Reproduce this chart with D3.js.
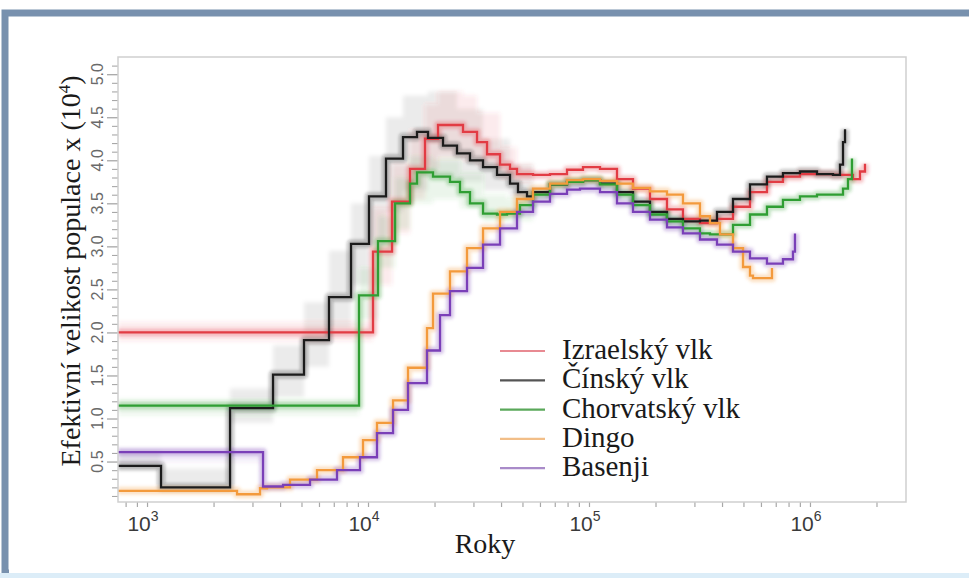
<!DOCTYPE html>
<html><head><meta charset="utf-8">
<script src="https://cdn.jsdelivr.net/npm/d3@7"></script>
<style>
html,body{margin:0;padding:0;background:#fff;}
svg{display:block;}
</style></head>
<body>
<svg id="chart" width="969" height="578"></svg>
<script>
// ---------- DATA (years, Ne x 10^4) ----------
const seriesNames = ["Izraelský vlk", "Čínský vlk", "Chorvatský vlk", "Dingo", "Basenji"];
const seriesColors = ["#e23c44", "#1c1c1c", "#2f9e33", "#f39a3c", "#7a3fb8"];
const legendColors = ["#e88a92", "#555555", "#5aa85a", "#f2be88", "#a98bc9"];

const izraelsky = [[740,2.00],[10535,2.94],[12846,3.52],[15489,3.90],[18110,4.25],[20740,4.41],[26909,4.33],[31139,4.21],[34561,4.07],[39574,3.95],[43913,3.90],[47228,3.84],[55806,3.83],[66602,3.84],[79522,3.89],[93948,3.92],[112160,3.90],[133886,3.78],[158185,3.67],[188800,3.55],[225380,3.43],[266250,3.32],[317850,3.27],[379500,3.32],[448400,3.46],[535300,3.63],[638800,3.75],[754700,3.81],[901000,3.84],[1271000,3.83],[1565000,3.78],[1684000,3.87],[1774000,3.96]];
const cinsky = [[740,0.45],[1157,0.20],[2375,1.12],[3717,1.51],[5133,1.91],[6660,2.41],[8378,3.03],[10104,3.58],[12062,4.02],[14400,4.27],[16662,4.33],[18685,4.26],[21848,4.17],[25275,4.08],[28942,4.00],[33152,3.92],[38357,3.83],[43913,3.73],[47720,3.63],[52428,3.58],[55806,3.63],[66602,3.72],[79522,3.75],[93948,3.77],[112160,3.73],[133886,3.63],[158185,3.52],[188800,3.40],[225380,3.32],[266250,3.29],[317850,3.30],[379500,3.40],[448400,3.55],[535300,3.72],[638800,3.81],[754700,3.85],[901000,3.87],[1076000,3.84],[1271000,3.83],[1367000,3.95],[1411000,4.21],[1441000,4.36]];
const chorvatsky = [[740,1.15],[9106,2.43],[11097,3.06],[13255,3.50],[15489,3.73],[16662,3.86],[19685,3.81],[23497,3.75],[26079,3.63],[28942,3.50],[33152,3.38],[38357,3.37],[42562,3.38],[48727,3.48],[55806,3.60],[66602,3.72],[79522,3.75],[93948,3.77],[112160,3.72],[133886,3.60],[158185,3.48],[188800,3.37],[225380,3.29],[266250,3.21],[317850,3.15],[352800,3.14],[448400,3.25],[535300,3.37],[638800,3.46],[754700,3.54],[901000,3.58],[1076000,3.60],[1271000,3.60],[1411000,3.67],[1486000,3.78],[1549000,4.02]];
const dingo = [[740,0.16],[2554,0.12],[3246,0.19],[3491,0.20],[4437,0.29],[5878,0.40],[7706,0.55],[9493,0.75],[10982,0.95],[12980,1.21],[15171,1.59],[18493,2.05],[19685,2.45],[23497,2.71],[28054,2.98],[33152,3.21],[39574,3.40],[47228,3.55],[55806,3.67],[66602,3.73],[79522,3.77],[93948,3.78],[112160,3.76],[133886,3.73],[158185,3.68],[188800,3.64],[225380,3.60],[266250,3.50],[317850,3.35],[352800,3.27],[391500,3.14],[448400,2.98],[497800,2.76],[535300,2.66],[552300,2.63],[673100,2.75]];
const basenji = [[740,0.61],[3349,0.21],[4125,0.23],[5465,0.29],[7239,0.40],[9201,0.55],[10982,0.83],[12980,1.10],[15171,1.41],[18493,1.79],[21179,2.20],[23497,2.48],[28054,2.75],[33152,3.02],[39574,3.21],[47228,3.40],[55806,3.52],[66602,3.61],[79522,3.66],[91059,3.67],[112160,3.63],[133886,3.50],[158185,3.40],[188800,3.31],[225380,3.22],[266250,3.15],[317850,3.08],[379500,3.02],[448400,2.94],[535300,2.86],[638800,2.80],[754700,2.85],[837600,2.94],[855300,3.15]];

// bootstrap spread envelopes [years, low, high]
const izraelskyBand = [[740,1.90,2.12],[10535,2.55,3.45],[12846,3.15,3.95],[15489,3.55,4.35],[18110,3.90,4.65],[20740,4.05,4.80],[26909,4.00,4.75],[31139,3.95,4.55],[39574,3.80,4.15],[47228,3.75,3.95],[55806,3.75,3.90]];
const cinskyBand = [[740,0.40,0.62],[1157,0.17,0.42],[2375,0.95,1.35],[3717,1.25,1.85],[5133,1.60,2.35],[6660,2.05,2.95],[8378,2.55,3.50],[10104,3.00,4.05],[12062,3.40,4.50],[14400,3.65,4.75],[18685,3.80,4.80],[25275,3.75,4.60],[33152,3.65,4.25],[43913,3.55,3.95],[55806,3.55,3.75]];
const chorvatskyBand = [[740,1.04,1.22],[9106,2.15,2.75],[11097,2.75,3.35],[13255,3.20,3.80],[15489,3.50,4.05],[19685,3.55,4.00],[26079,3.45,3.85],[33152,3.30,3.60],[42562,3.30,3.55],[55806,3.50,3.70]];
const dingoBand = [];
const basenjiBand = [[740,0.50,0.64],[3349,0.20,0.24]];

const xMajorTicks = [1e3, 1e4, 1e5, 1e6];
const xTickExponents = ["3", "4", "5", "6"];
const yMajorTicks = [0.5,1.0,1.5,2.0,2.5,3.0,3.5,4.0,4.5,5.0];
const yTickLabels = ["0.5","1.0","1.5","2.0","2.5","3.0","3.5","4.0","4.5","5.0"];
const xTitle = "Roky";
const yTitle = "Efektivní velikost populace x (10";
const yTitleSup = "4";

const allSeries = [izraelsky, cinsky, chorvatsky, dingo, basenji];
const allBands = [izraelskyBand, cinskyBand, chorvatskyBand, dingoBand, basenjiBand];

// ---------- LAYOUT ----------
const svg = d3.select("#chart");
const X0 = 118, X1 = 906, Y0 = 57, Y1 = 502;
const x = d3.scaleLog().domain([739, 2.72e6]).range([X0, X1]);
const y = d3.scaleLinear().domain([0.03, 5.2]).range([Y1, Y0]);

const defs = svg.append("defs");
defs.append("clipPath").attr("id","clip")
  .append("rect").attr("x",X0).attr("y",Y0).attr("width",X1-X0).attr("height",Y1-Y0);
defs.append("filter").attr("id","blurBand").attr("x","-5%").attr("y","-5%").attr("width","110%").attr("height","110%")
  .append("feGaussianBlur").attr("stdDeviation",2);
defs.append("filter").attr("id","blurHalo").attr("x","-5%").attr("y","-5%").attr("width","110%").attr("height","110%")
  .append("feGaussianBlur").attr("stdDeviation",1.4);

// outer frame
svg.append("rect").attr("x",0).attr("y",0).attr("width",969).attr("height",578).attr("fill","#ffffff");
svg.append("rect").attr("x",5).attr("y",13).attr("width",980).attr("height",560).attr("fill","none")
  .attr("stroke","#7891ae").attr("stroke-width",7);
svg.append("rect").attr("x",0).attr("y",573).attr("width",969).attr("height",5).attr("fill","#dcedf8");
svg.append("rect").attr("x",9).attr("y",17).attr("width",970).attr("height",556).attr("fill","#ffffff");

// minor x ticks (2..9 per decade)
const xMinor = [];
[100,1000,10000,100000,1000000].forEach(d => { for (let k=1;k<10;k++){ const v=d*k; if (v>=739 && v<=2.72e6) xMinor.push(v);} });
const xAxis = d3.axisBottom(x).tickValues(xMinor).tickSize(5).tickFormat("");
const gx = svg.append("g").attr("transform",`translate(0,${Y1})`).call(xAxis);
gx.select(".domain").remove();
gx.selectAll("line").attr("stroke","#a8a8a8").attr("stroke-width",1.2);

// y ticks
const yMinor = d3.range(1,52).map(d=>d/10).filter(v=>Math.abs(v*2-Math.round(v*2))>1e-6);
const gyMinor = svg.append("g").attr("transform",`translate(${X0},0)`).call(d3.axisLeft(y).tickValues(yMinor).tickSize(6).tickFormat(""));
gyMinor.select(".domain").remove();
gyMinor.selectAll("line").attr("stroke","#a8a8a8").attr("stroke-width",1.1);
const gyMajor = svg.append("g").attr("transform",`translate(${X0},0)`).call(d3.axisLeft(y).tickValues(yMajorTicks).tickSize(11).tickFormat(""));
gyMajor.select(".domain").remove();
gyMajor.selectAll("line").attr("stroke","#a0a0a0").attr("stroke-width",1.2);

// y tick labels (rotated)
svg.append("g").selectAll("text").data(yMajorTicks).join("text")
  .attr("transform", (d)=>`translate(103,${y(d)}) rotate(-90)`)
  .attr("text-anchor","middle")
  .attr("font-family","'Liberation Sans', Arial, sans-serif")
  .attr("font-size",16).attr("fill","#6a6a6a")
  .text((d,i)=>yTickLabels[i]);

// x tick labels
const xl = svg.append("g").selectAll("text").data(xMajorTicks).join("text")
  .attr("x", d=>x(d)-4).attr("y",531)
  .attr("text-anchor","middle")
  .attr("font-family","'Liberation Sans', Arial, sans-serif")
  .attr("font-size",21).attr("fill","#3a3a3a");
xl.append("tspan").text("10");
xl.append("tspan").attr("dy",-10).attr("font-size",14).text((d,i)=>xTickExponents[i]);

// bands
const plot = svg.append("g").attr("clip-path","url(#clip)");
const area = d3.area().curve(d3.curveStepAfter).x(d=>x(d[0])).y0(d=>y(d[1])).y1(d=>y(d[2]));
const bandG = plot.append("g").attr("filter","url(#blurBand)");
allBands.forEach((b,i)=>{
  if (!b.length) return;
  bandG.append("path").datum(b).attr("d",area)
    .attr("fill",seriesColors[i]).attr("fill-opacity", i===1?0.08:0.1).attr("stroke","none");
});

// lines
const line = d3.line().curve(d3.curveStepAfter).x(d=>x(d[0])).y(d=>y(d[1]));
const haloG = plot.append("g").attr("filter","url(#blurHalo)");
allSeries.forEach((s,i)=>{
  haloG.append("path").datum(s).attr("d",line).attr("fill","none")
    .attr("stroke",seriesColors[i]).attr("stroke-opacity",0.28).attr("stroke-width",8).attr("stroke-linejoin","round");
});
allSeries.forEach((s,i)=>{
  plot.append("path").datum(s).attr("d",line).attr("fill","none")
    .attr("stroke",seriesColors[i]).attr("stroke-width",2.3).attr("stroke-linejoin","miter");
});

// box
svg.append("rect").attr("x",X0).attr("y",Y0).attr("width",X1-X0).attr("height",Y1-Y0)
  .attr("fill","none").attr("stroke","#cfcfcf").attr("stroke-width",1.5);

// legend
const leg = svg.append("g");
seriesNames.forEach((n,i)=>{
  const yy = 351 + i*29.3;
  leg.append("line").attr("x1",500).attr("x2",545).attr("y1",yy).attr("y2",yy)
    .attr("stroke",legendColors[i]).attr("stroke-width",2.2);
  leg.append("text").attr("x",562).attr("y",yy+8)
    .attr("font-family","'Liberation Serif', 'Times New Roman', serif")
    .attr("font-size",29).attr("fill","#1a1a1a").text(n);
});

// axis titles
svg.append("text").attr("x",485).attr("y",553).attr("text-anchor","middle")
  .attr("font-family","'Liberation Serif', 'Times New Roman', serif")
  .attr("font-size",28).attr("fill","#1a1a1a").text(xTitle);
const yt = svg.append("text").attr("transform","translate(80,271) rotate(-90)").attr("text-anchor","middle")
  .attr("font-family","'Liberation Serif', 'Times New Roman', serif")
  .attr("font-size",28).attr("fill","#1a1a1a");
yt.append("tspan").text(yTitle);
yt.append("tspan").attr("dy",-10).attr("font-size",17).text(yTitleSup);
yt.append("tspan").attr("dy",10).text(")");
</script>
</body></html>
